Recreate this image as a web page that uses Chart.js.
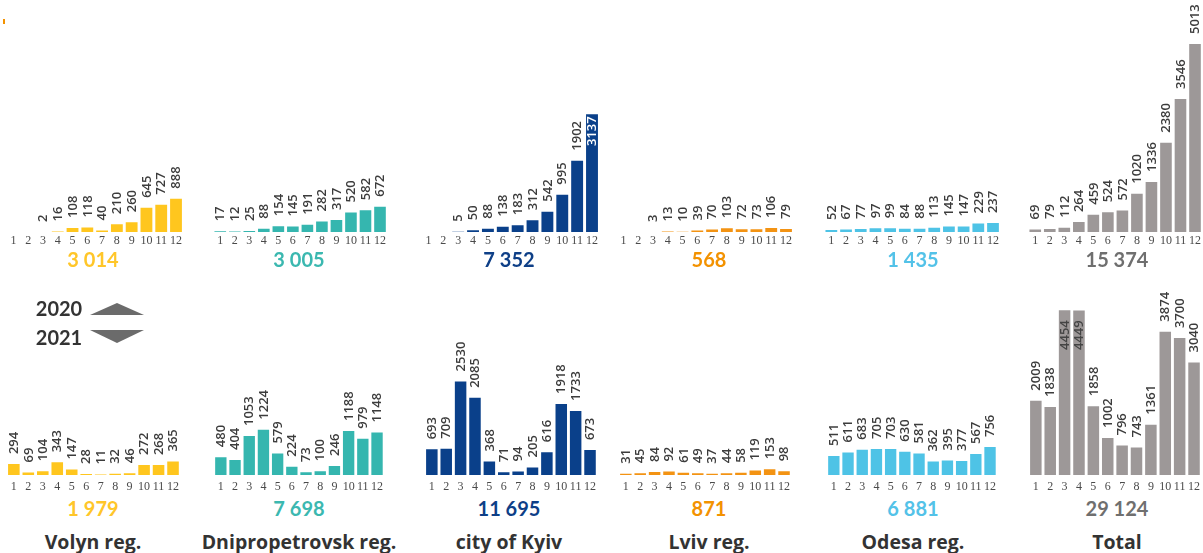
<!DOCTYPE html>
<html>
<head>
<meta charset="utf-8">
<script src="https://cdn.jsdelivr.net/npm/chart.js@4.4.1/dist/chart.umd.min.js"></script>
<style>
  html, body { margin: 0; padding: 0; background: #fff; }
  #wrap { position: relative; width: 1203px; height: 553px; overflow: hidden; font-family: Lato, "Open Sans", sans-serif; }
  #wrap canvas { position: absolute; }
  .txt { position: absolute; transform: translate(-50%, -50%); white-space: nowrap; font-weight: 700; line-height: 1; }
  .total { font-size: 20px; }
  .name { font-size: 19.5px; color: #333; font-family: "Open Sans", Lato, sans-serif; }
  .year { font-size: 20px; color: #333; left: 59px; }
  #marks { position: absolute; left: 0; top: 0; }
  #tick { position: absolute; left: 3px; top: 19px; width: 2px; height: 5px; background: #f39200; }
</style>
</head>
<body>
<div id="wrap">
  <div id="tick"></div>
  <svg id="marks" width="160" height="360">
    <polygon points="90,315 117,303 144,315" fill="#6b6b6b"/>
    <polygon points="90,330 144,330 117,343" fill="#6b6b6b"/>
  </svg>
  <div class="txt year" style="top:308px">2020</div>
  <div class="txt year" style="top:337px">2021</div>
</div>
<script>
// Months on every small panel
const months = ['1','2','3','4','5','6','7','8','9','10','11','12'];

// Panel names
const regions = ['Volyn reg.', 'Dnipropetrovsk reg.', 'city of Kyiv', 'Lviv reg.', 'Odesa reg.', 'Total'];

// Monthly counts, 2020
const volyn2020  = [null, null, 2, 16, 108, 118, 40, 210, 260, 645, 727, 888];
const dnipro2020 = [17, 12, 25, 88, 154, 145, 191, 282, 317, 520, 582, 672];
const kyiv2020   = [null, null, 5, 50, 88, 138, 183, 312, 542, 995, 1902, 3137];
const lviv2020   = [null, null, 3, 13, 10, 39, 70, 103, 72, 73, 106, 79];
const odesa2020  = [52, 67, 77, 97, 99, 84, 88, 113, 145, 147, 229, 237];
const total2020  = [69, 79, 112, 264, 459, 524, 572, 1020, 1336, 2380, 3546, 5013];

// Monthly counts, 2021
const volyn2021  = [294, 69, 104, 343, 147, 28, 11, 32, 46, 272, 268, 365];
const dnipro2021 = [480, 404, 1053, 1224, 579, 224, 73, 100, 246, 1188, 979, 1148];
const kyiv2021   = [693, 709, 2530, 2085, 368, 71, 94, 205, 616, 1918, 1733, 673];
const lviv2021   = [31, 45, 84, 92, 61, 49, 37, 44, 58, 119, 153, 98];
const odesa2021  = [511, 611, 683, 705, 703, 630, 581, 362, 395, 377, 567, 756];
const total2021  = [2009, 1838, 4454, 4449, 1858, 1002, 796, 743, 1361, 3874, 3700, 3040];

const series2020 = [volyn2020, dnipro2020, kyiv2020, lviv2020, odesa2020, total2020];
const series2021 = [volyn2021, dnipro2021, kyiv2021, lviv2021, odesa2021, total2021];

// Styling
const barColors   = ['#ffc61e', '#35b6af', '#0a408a', '#f39313', '#4ec3e6', '#9d9898'];
const totalColors = ['#ffc629', '#3bb8b0', '#0e3f87', '#f39200', '#53c2e8', '#6f6f6f'];
const textCenters = [93, 299, 509, 709, 913, 1117];

// Horizontal placement of each panel: left edge and width of the plot
const topPanels    = [[5.6, 177.6], [212.7, 174.5], [420.5, 179], [615.6, 178], [823.6, 177], [1027.7, 174.5]];
const bottomPanels = [[5.6, 177.6], [212.7, 174.5], [423.6, 177], [617.6, 177], [825.7, 174.5], [1027.6, 177]];

// Labels drawn inside the bar top instead of above it
const insideTop    = { 2: { idx: [11], color: '#ffffff', offset: 2 } };
const insideBottom = { 5: { idx: [2, 3], color: '#444444', offset: 10 } };

// Rotated value labels above each bar
const valueLabels = {
  id: 'valueLabels',
  afterDatasetsDraw(chart, args, opts) {
    const ctx = chart.ctx;
    const meta = chart.getDatasetMeta(0);
    const data = chart.data.datasets[0].data;
    const inside = opts.inside || null;
    ctx.save();
    ctx.font = '600 13px "Open Sans", Lato, sans-serif';
    ctx.textBaseline = 'middle';
    meta.data.forEach((bar, i) => {
      const v = data[i];
      if (v === null || v === undefined) return;
      const top = Math.min(bar.y, bar.base);
      const isIn = inside && inside.idx.includes(i);
      ctx.save();
      ctx.translate(bar.x, isIn ? top + inside.offset : top - opts.gap);
      ctx.rotate(-Math.PI / 2);
      ctx.textAlign = isIn ? 'right' : 'left';
      ctx.fillStyle = isIn ? inside.color : '#3c3c3c';
      ctx.fillText(String(v), 0, 0.5);
      ctx.restore();
    });
    ctx.restore();
  }
};

const wrap = document.getElementById('wrap');

function addText(cls, text, x, y, color) {
  const d = document.createElement('div');
  d.className = 'txt ' + cls;
  d.textContent = text;
  d.style.left = x + 'px';
  d.style.top = y + 'px';
  if (color) d.style.color = color;
  wrap.appendChild(d);
}

function fmt(n) {
  return String(n).replace(/\B(?=(\d{3})+(?!\d))/g, ' ');
}

function sum(arr) {
  return arr.reduce((a, b) => a + (b || 0), 0);
}

function makePanel(values, color, left, width, top, height, axisH, tickPad, yMax, inside) {
  const c = document.createElement('canvas');
  c.width = Math.round(width);
  c.height = height;
  c.style.left = left + 'px';
  c.style.top = top + 'px';
  wrap.insertBefore(c, wrap.firstChild);
  return new Chart(c, {
    type: 'bar',
    data: {
      labels: months,
      datasets: [{ data: values, backgroundColor: color, barPercentage: 0.8, categoryPercentage: 1 }]
    },
    options: {
      responsive: false,
      animation: false,
      devicePixelRatio: 1,
      layout: { padding: 0 },
      plugins: {
        legend: { display: false },
        tooltip: { enabled: false },
        valueLabels: { gap: 10, inside: inside }
      },
      scales: {
        x: {
          grid: { display: false, drawTicks: false },
          border: { display: false },
          ticks: {
            autoSkip: false, maxRotation: 0, minRotation: 0, padding: tickPad,
            color: '#4a4a4a', font: { family: '"Liberation Serif", serif', size: 12 }
          },
          afterFit(s) { s.height = axisH; }
        },
        y: { display: false, min: 0, max: yMax }
      }
    },
    plugins: [valueLabels]
  });
}

for (let k = 0; k < regions.length; k++) {
  // 2020 row: plot area from y=0 down to the baseline at y=232
  makePanel(series2020[k], barColors[k], topPanels[k][0], topPanels[k][1],
            0, 250, 18, 2, 232 / 0.0375, insideTop[k]);
  // 2021 row: plot area from y=280 down to the baseline at y=475
  makePanel(series2021[k], barColors[k], bottomPanels[k][0], bottomPanels[k][1],
            280, 212, 17, 5, 195 / 0.037, insideBottom[k]);

  addText('total', fmt(sum(series2020[k])), textCenters[k], 259, totalColors[k]);
  addText('total', fmt(sum(series2021[k])), textCenters[k], 508, totalColors[k]);
  addText('name', regions[k], textCenters[k], 542);
}
</script>
</body>
</html>
